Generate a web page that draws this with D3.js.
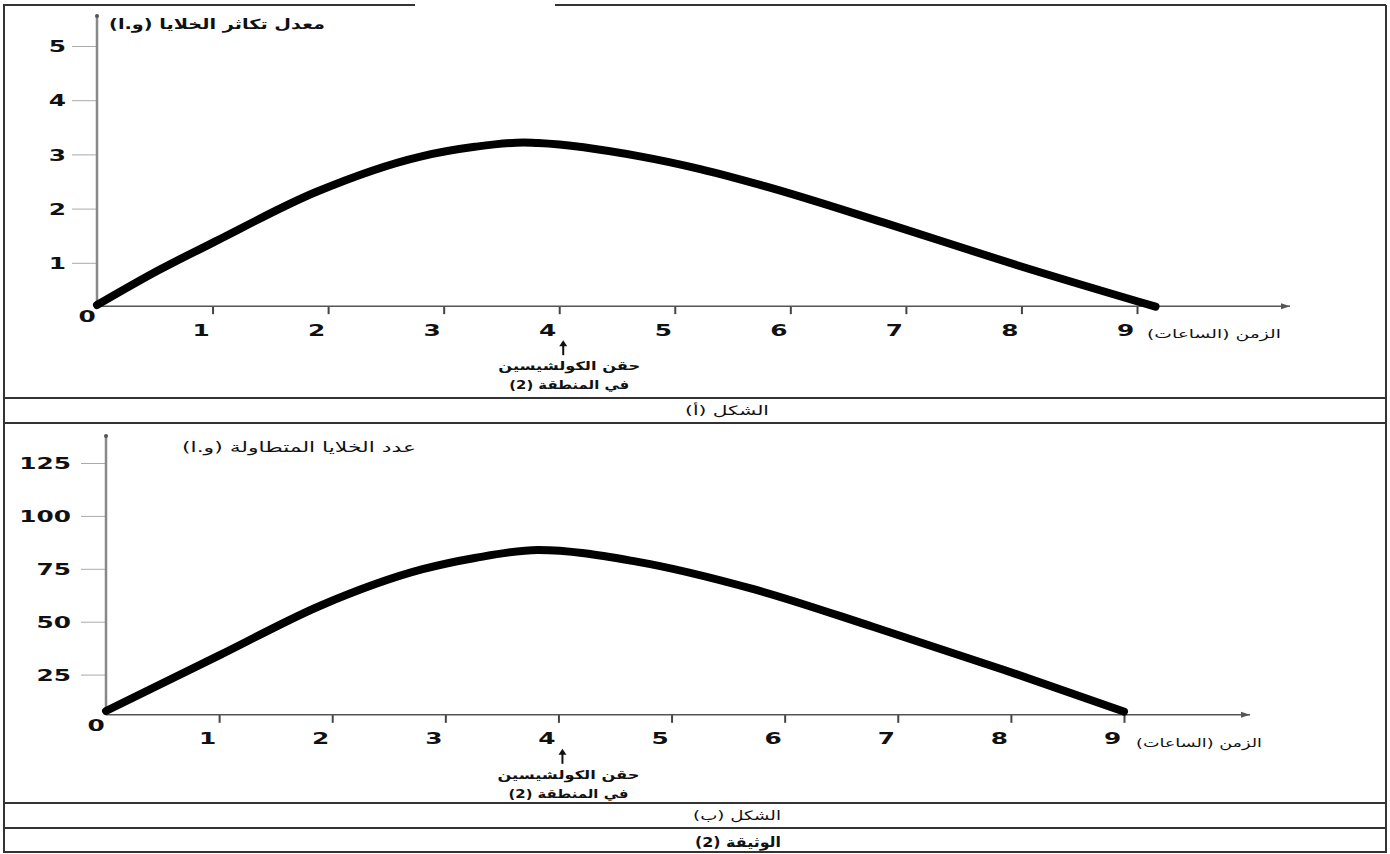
<!DOCTYPE html>
<html>
<head>
<meta charset="utf-8">
<script src="https://cdn.jsdelivr.net/npm/d3@7"></script>
<style>
  body { margin: 0; background: #fff; }
  svg { display: block; }
  text { font-family: "DejaVu Sans", sans-serif; fill: #111; }
</style>
</head>
<body>
<svg width="1390" height="854"></svg>
<script>
// values
var hoursA = [0, 0.54, 1.02, 1.90, 2.80, 3.27, 3.69, 3.82, 4.71, 5.22, 5.77, 6.81, 7.97, 9.16];
var rateA  = [0.22, 0.87, 1.39, 2.31, 2.96, 3.14, 3.22, 3.21, 2.96, 2.73, 2.42, 1.74, 0.95, 0.19];

var hoursB = [0, 1.01, 1.91, 2.80, 3.26, 3.82, 4.69, 5.75, 6.78, 7.94, 9.00];
var countB = [7.8, 34.3, 57.9, 74.8, 80.1, 83.9, 78.4, 65.0, 47.6, 27.2, 7.5];

var hourTicks = [1, 2, 3, 4, 5, 6, 7, 8, 9];
var rateTicks = [1, 2, 3, 4, 5];
var countTicks = [25, 50, 75, 100, 125];

var labelA = "معدل تكاثر الخلايا (و.ا)";
var labelB = "عدد الخلايا المتطاولة (و.ا)";
var timeLabel = "الزمن (الساعات)";
var note1 = "حقن الكولشيسين";
var note2 = "في المنطقة (2)";
var figA = "الشكل (أ)";
var figB = "الشكل (ب)";
var doc = "الوثيقة (2)";

var svg = d3.select("svg");

// frame
var frame = svg.append("g").attr("stroke", "#333").attr("stroke-width", 2).attr("fill", "none");
frame.append("path").attr("d", "M3,5 H415 M555,5 H1386");
frame.append("path").attr("d", "M4,5 V852 H1386 V5");
[398, 423, 803, 828].forEach(function(y) {
  frame.append("line").attr("x1", 4).attr("x2", 1386).attr("y1", y).attr("y2", y);
});

// stretch a text to a given width around its centre
function fit(t, cx, y, w) {
  var len = t.node().getComputedTextLength();
  t.attr("x", 0).attr("y", 0)
   .attr("transform", "translate(" + cx + "," + y + ") scale(" + (w / len) + ",1)");
}

function addText(g, str, cx, y, w, size, weight) {
  var t = g.append("text").text(str)
    .attr("text-anchor", "middle")
    .style("direction", "rtl")
    .attr("font-size", size)
    .attr("font-weight", weight || "normal");
  fit(t, cx, y, w);
  return t;
}

function chart(o) {
  var g = svg.append("g");
  var x = d3.scaleLinear().domain([0, 9]).range(o.xr);
  var y = d3.scaleLinear().domain(o.yd).range(o.yr);
  var base = y(o.floor);

  // y ticks
  var ya = g.append("g").attr("transform", "translate(" + o.xr[0] + ",0)")
    .call(d3.axisLeft(y).tickValues(o.yTicks).tickFormat(d3.format("d")).tickSize(25).tickPadding(0));
  ya.select(".domain").remove();
  ya.selectAll("line").attr("stroke", "#aaa");
  ya.selectAll("text").attr("x", 0).attr("dy", "0.36em")
    .attr("font-size", 16).attr("font-weight", "bold")
    .attr("font-family", "DejaVu Sans")
    .attr("transform", "translate(" + o.labOff + ",0) scale(1.55,1)");

  // x ticks
  var xa = g.append("g").attr("transform", "translate(0," + base + ")")
    .call(d3.axisBottom(x).tickValues(hourTicks).tickFormat(d3.format("d")).tickSize(8));
  xa.select(".domain").remove();
  xa.selectAll("line").attr("stroke", "#444").attr("stroke-width", 2);
  xa.selectAll("text").attr("y", 18)
    .attr("font-size", 16).attr("font-weight", "bold")
    .attr("font-family", "DejaVu Sans")
    .attr("transform", "translate(-12,0) scale(1.55,1)");

  // axis lines
  g.append("line").attr("x1", x(0)).attr("x2", x(0))
    .attr("y1", base).attr("y2", o.yTop)
    .attr("stroke", "#888").attr("stroke-width", 2.5);
  g.append("circle").attr("cx", x(0)).attr("cy", o.yTop + 1).attr("r", 2).attr("fill", "#555");
  g.append("line").attr("x1", x(0)).attr("x2", o.xEnd)
    .attr("y1", base).attr("y2", base)
    .attr("stroke", "#555").attr("stroke-width", 1.5);
  g.append("path")
    .attr("d", "M" + o.xEnd + "," + base + " l-9,-3 v6 z")
    .attr("fill", "#555");

  // origin
  g.append("text").text("0").attr("font-weight", "bold").attr("font-size", 16)
    .attr("text-anchor", "middle")
    .attr("transform", "translate(" + (x(0) - 10) + "," + (base + 16) + ") scale(1.55,1)");

  // curve
  var pts = o.hours.map(function(h, i) { return [h, o.vals[i]]; });
  g.append("path").datum(pts)
    .attr("fill", "none").attr("stroke", "#000").attr("stroke-width", 8)
    .attr("stroke-linecap", "round").attr("stroke-linejoin", "round")
    .attr("d", d3.line().x(function(d) { return x(d[0]); }).y(function(d) { return y(d[1]); })
      .curve(d3.curveMonotoneX));

  // labels
  addText(g, o.label, o.labelX, o.labelY, o.labelW, 14, o.labelWeight);
  addText(g, timeLabel, o.timeX, base + 32, o.timeW, 12);

  // injection note under hour 4
  var ax = x(4) + 4;
  g.append("line").attr("x1", ax).attr("x2", ax).attr("y1", base + 49).attr("y2", base + 37)
    .attr("stroke", "#111").attr("stroke-width", 2);
  g.append("path").attr("d", "M" + ax + "," + (base + 34) + " l-4,6 h8 z").attr("fill", "#111");
  addText(g, note1, ax + 6, base + 64, 142, 12, "bold");
  addText(g, note2, ax + 6, base + 83, 120, 12, "bold");
}

chart({
  xr: [97, 1137], yd: [0, 5], yr: [317, 46], floor: 0.2, yTop: 15, xEnd: 1290,
  yTicks: rateTicks, labOff: -31, hours: hoursA, vals: rateA,
  label: labelA, labelX: 217, labelY: 29, labelW: 216, labelWeight: "bold",
  timeX: 1214, timeW: 134
});

chart({
  xr: [106, 1124], yd: [0, 125], yr: [727.5, 463], floor: 6, yTop: 435, xEnd: 1250,
  yTicks: countTicks, labOff: -35, hours: hoursB, vals: countB,
  label: labelB, labelX: 299, labelY: 452, labelW: 234, labelWeight: "normal",
  timeX: 1199, timeW: 126
});

// figure captions
var cap = svg.append("g");
addText(cap, figA, 727, 415, 84, 13);
addText(cap, figB, 737, 820, 88, 13);
addText(cap, doc, 738, 847, 86, 14, "bold");
</script>
</body>
</html>
